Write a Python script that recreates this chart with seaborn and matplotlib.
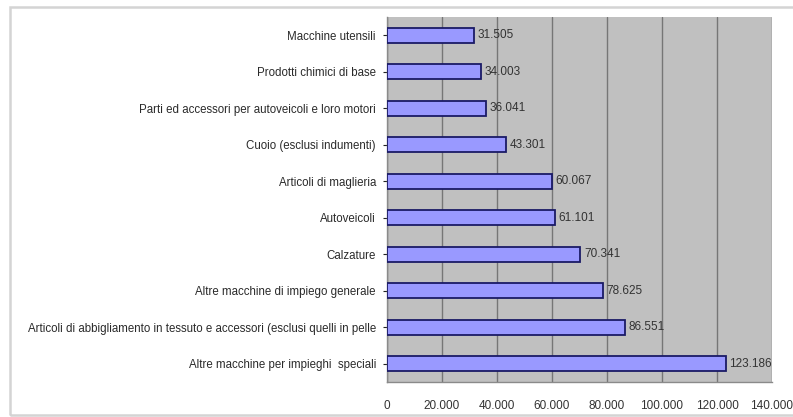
import matplotlib
matplotlib.use("Agg")
import matplotlib.pyplot as plt
import matplotlib.ticker as mticker
from matplotlib.patches import Rectangle
import pandas as pd
import seaborn as sns

categories = [
    "Macchine utensili",
    "Prodotti chimici di base",
    "Parti ed accessori per autoveicoli e loro motori",
    "Cuoio (esclusi indumenti)",
    "Articoli di maglieria",
    "Autoveicoli",
    "Calzature",
    "Altre macchine di impiego generale",
    "Articoli di abbigliamento in tessuto e accessori (esclusi quelli in pelle",
    "Altre macchine per impieghi  speciali",
]
values = [31505, 34003, 36041, 43301, 60067, 61101, 70341, 78625, 86551, 123186]
x_ticks = [0, 20000, 40000, 60000, 80000, 100000, 120000, 140000]


def it_thousands(v, pos=None):
    return f"{int(round(v)):,}".replace(",", ".")


df = pd.DataFrame({"categoria": categories, "valore": values})

sns.set_theme(style="white")
plt.rcParams["font.family"] = ["Liberation Sans", "DejaVu Sans"]

fig = plt.figure(figsize=(7.93, 4.17), dpi=100)
fig.patch.set_facecolor("white")

# outer chart frame
fig.add_artist(Rectangle((10 / 793, 2 / 417), 790 / 793, 408 / 417,
                         transform=fig.transFigure, fill=False,
                         edgecolor="#d4d4d4", linewidth=1.8))

ax = fig.add_axes([387 / 793, 1 - 382 / 417, (772 - 387) / 793, (382 - 17) / 417])
ax.set_facecolor("#c0c0c0")

sns.barplot(data=df, x="valore", y="categoria", orient="h", order=categories,
            color="#9999ff", saturation=1, width=0.42,
            edgecolor="#1a1a66", linewidth=1.3, ax=ax, zorder=3)

ax.set_xlim(0, 140000)
ax.set_xticks(x_ticks)
ax.xaxis.set_major_formatter(mticker.FuncFormatter(it_thousands))
ax.grid(axis="x", color="#767676", linewidth=1, zorder=0)
ax.set_axisbelow(True)

for i, v in enumerate(values):
    ax.text(v + 1300, i, it_thousands(v), va="center", ha="left",
            fontsize=8.5, color="#333333", zorder=4)

ax.set_xlabel("")
ax.set_ylabel("")
ax.tick_params(axis="y", labelsize=8.3, colors="#222222", length=3, width=0.8,
               direction="out", left=True, pad=5)
ax.tick_params(axis="x", labelsize=8.5, colors="#333333", length=0, pad=13)
for lab in ax.get_yticklabels():
    lab.set_color("#2a2a2a")

for side in ["top", "right"]:
    ax.spines[side].set_visible(False)
ax.spines["left"].set_color("#8a8a8a")
ax.spines["bottom"].set_color("#8a8a8a")
ax.spines["left"].set_linewidth(1)
ax.spines["bottom"].set_linewidth(1)

fig.savefig("out.png", dpi=100, facecolor="white")
